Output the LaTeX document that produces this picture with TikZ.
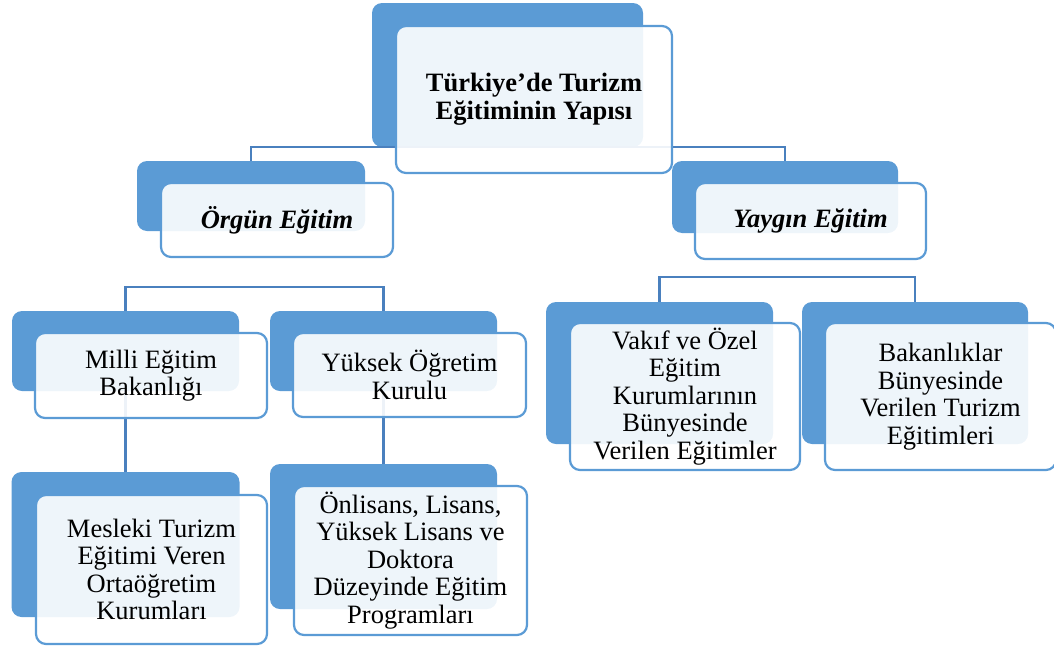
\documentclass[tikz,border=0pt]{standalone}
\usepackage{fontspec}
\setmainfont{Liberation Serif}
\usepackage{xcolor}
\usepackage{tikz}
\definecolor{boxblue}{HTML}{5B9BD5}
\definecolor{linkblue}{HTML}{4A80BE}
\tikzset{shadowbox/.style={rounded corners=10pt,fill=boxblue,inner sep=0pt},
textbox/.style={rounded corners=10pt,draw=boxblue,line width=2.2pt,fill=white,fill opacity=0.9,text opacity=1,align=center,inner sep=0pt,font=\fontsize{26.5}{27.5}\selectfont},
link/.style={draw=linkblue,line width=2.4pt}}

\begin{document}
\begin{tikzpicture}[x=1pt,y=-1pt]
        \useasboundingbox (0,0) rectangle (1054,645);
        % dark boxes behind
        \node[shadowbox,minimum width=271pt,minimum height=144pt] (a) at (507.5,75) {};
        \node[shadowbox,minimum width=228pt,minimum height=70pt] (b) at (251,196) {};
        \node[shadowbox,minimum width=226pt,minimum height=72pt] (c) at (785,197) {};
        \node[shadowbox,minimum width=227pt,minimum height=80pt] (d) at (125.5,351) {};
        \node[shadowbox,minimum width=227pt,minimum height=80pt] (e) at (383.5,351) {};
        \node[shadowbox,minimum width=228pt,minimum height=145pt] (f) at (125.5,544.5) {};
        \node[shadowbox,minimum width=227pt,minimum height=145pt] (g) at (383.5,536.5) {};
        \node[shadowbox,minimum width=227pt,minimum height=142pt] (h) at (659.5,373) {};
        \node[shadowbox,minimum width=226pt,minimum height=142pt] (i) at (915,373) {};

        \draw [link] (b.north) |- (a.south) -| (c.north);
        \draw [link] (d.north) |- ([yshift=-56pt]b.south) -| (e.north);
        \draw [link] (h.north) |- ([yshift=-44pt]c.south) -| (i.north);
        \draw [link] (d.south) to [] (f.north);
        \draw [link] (e.south) to [] (g.north);

        % text boxes in front
        \node[textbox,minimum width=276pt,minimum height=147pt,font=\fontsize{26.5}{28}\selectfont\bfseries] (aa) at (534,99.5) {Türkiye’de Turizm\\Eğitiminin Yapısı};
        \node[textbox,minimum width=232pt,minimum height=74pt,font=\fontsize{26.5}{27.5}\selectfont\bfseries\itshape] (bb) at (277,220) {Örgün Eğitim};
        \node[textbox,minimum width=231pt,minimum height=76pt,font=\fontsize{26.5}{27.5}\selectfont\bfseries\itshape] (cc) at (810.5,221) {Yaygın Eğitim};
        \node[textbox,minimum width=232pt,minimum height=85pt] (dd) at (151,375.5) {Milli Eğitim\\Bakanlığı};
        \node[textbox,minimum width=233pt,minimum height=84pt] (ee) at (409.5,375) {Yüksek Öğretim\\Kurulu};
        \node[textbox,minimum width=231pt,minimum height=149pt] (ff) at (151.5,569.5) {Mesleki Turizm\\Eğitimi Veren\\Ortaöğretim\\Kurumları};
        \node[textbox,minimum width=233pt,minimum height=149pt] (gg) at (410.5,560.5) {Önlisans, Lisans,\\Yüksek Lisans ve\\Doktora\\Düzeyinde Eğitim\\Programları};
        \node[textbox,minimum width=230pt,minimum height=147pt] (hh) at (685,396.5) {Vakıf ve Özel\\Eğitim\\Kurumlarının\\Bünyesinde\\Verilen Eğitimler};
        \node[textbox,minimum width=231pt,minimum height=147pt] (ii) at (940.5,396.5) {Bakanlıklar\\Bünyesinde\\Verilen Turizm\\Eğitimleri};
    \end{tikzpicture}
\end{document}
